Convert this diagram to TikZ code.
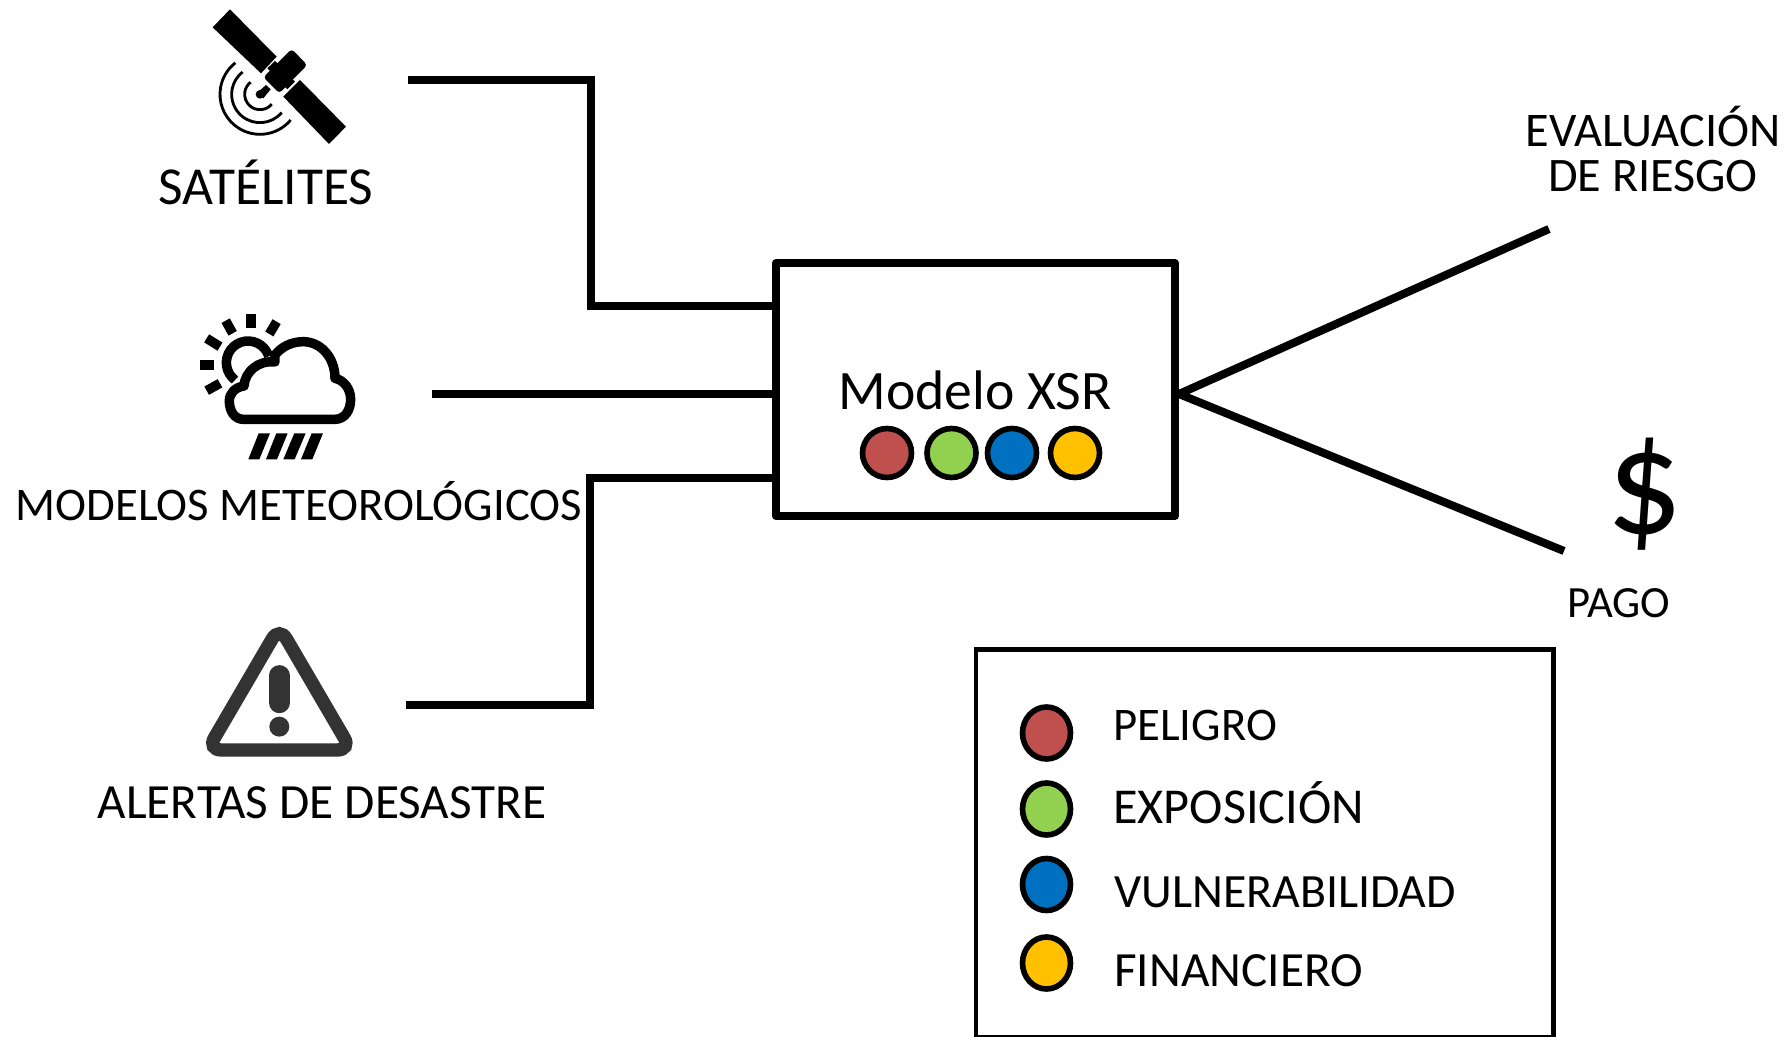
\documentclass[tikz,border=0pt]{standalone}
\usepackage{fontspec}
\setmainfont{Carlito}
\usetikzlibrary{positioning, calc, shapes.geometric}
\definecolor{colpeligro}{HTML}{C0504D}
\definecolor{colexpo}{HTML}{92D050}
\definecolor{colvulner}{HTML}{0070C0}
\definecolor{colfinan}{HTML}{FFC000}
\definecolor{coltri}{HTML}{333333}

\begin{document}
\begin{tikzpicture}[x=0.02cm, y=-0.02cm]
	% Define styles
	\tikzset{
		modelbox/.style={rectangle, draw, line width=4.6pt, line join=round, minimum width=7.98cm, minimum height=5.06cm, inner sep=0pt},
		legendbox/.style={rectangle, draw, line width=2.6pt, minimum width=11.56cm, minimum height=7.76cm, inner sep=0pt},
		line/.style={draw, line width=4.6pt},
		bigdot/.style={circle, draw, line width=3.2pt, minimum size=0.98cm, inner sep=0pt},
		legenddot/.style={ellipse, draw, line width=3.2pt, minimum width=0.96cm, minimum height=1.04cm, inner sep=0pt},
		label/.style={font=\fontsize{28}{34}\selectfont, inner sep=0pt},
		legendtext/.style={inner sep=0pt, anchor=base west},
		iconline/.style={line width=5.4pt}
	}
	\useasboundingbox (0,0) rectangle (1785,1037);

	% Satellite
	\begin{scope}[shift={(180,0)}, scale=0.3333]
		\fill (150,28) -- (98,82) -- (243,220) -- (290,170) -- cycle;
		\fill (360,240) -- (310,290) -- (447,432) -- (498,380) -- cycle;
		\fill[rounded corners=2pt] (335,147) -- (382,195) -- (298,280) -- (250,232) -- cycle;
		\fill (262,205) -- (285,183) -- (300,198) -- (277,220) -- cycle;
		\fill (330,230) -- (345,245) -- (322,268) -- (307,253) -- cycle;
		\fill (258,255) -- (272,268) -- (250,295) -- (232,278) -- cycle;
		\fill (240,283) circle (13);
		\draw[line width=1.6pt] ($(240,283)+(40:46)$) arc (40:232:46);
		\draw[line width=1.6pt] ($(240,283)+(40:85)$) arc (40:232:85);
		\draw[line width=1.6pt] ($(240,283)+(40:120)$) arc (40:232:120);
	\end{scope}

	% Cloud
	\begin{scope}[shift={(180,300)}, scale=0.3333]
		\draw[iconline] (165,240) arc (127:343:65);
		\draw[iconline, line join=round] (190,358) -- (465,358) .. controls (495,358) and (512,330) .. (512,298) .. controls (512,265) and (490,240) .. (465,235) .. controls (465,170) and (420,125) .. (370,125) .. controls (335,125) and (305,140) .. (285,165) -- (285,186) .. controls (235,180) and (195,215) .. (192,258) .. controls (165,262) and (148,280) .. (148,303) .. controls (148,335) and (165,358) .. (190,358) -- cycle;
		\draw[iconline] (213,42) -- (213,85);
		\draw[iconline] (137,62) -- (158,100);
		\draw[iconline] (80,115) -- (120,140);
		\draw[iconline] (60,195) -- (103,195);
		\draw[iconline] (80,272) -- (120,250);
		\draw[iconline] (290,65) -- (268,102);
		\fill (236,400) -- (270,400) -- (238,478) -- (205,478) -- cycle;
		\fill (289,400) -- (323,400) -- (291,478) -- (258,478) -- cycle;
		\fill (343,400) -- (377,400) -- (344,478) -- (310,478) -- cycle;
		\fill (395,400) -- (429,400) -- (397,478) -- (363,478) -- cycle;
	\end{scope}

	% Warning sign
	\begin{scope}[shift={(190,610)}, scale=0.3333]
		\draw[coltri, line width=7.6pt, rounded corners=8pt] (268,50) -- (484,420) -- (52,420) -- cycle;
		\draw[coltri, line width=12pt, line cap=round] (268,197) -- (268,278);
		\fill[coltri] (268,350) circle (30);
	\end{scope}

	% Nodes
	\node[label, font=\fontsize{30.4}{36}\selectfont] (sat) at (266,182.5) {SATÉLITES};
	\node[label, font=\fontsize{26.6}{32}\selectfont] (met) at (299,501.5) {MODELOS METEOROLÓGICOS};
	\node[label] (ale) at (322,803) {ALERTAS DE DESASTRE};
	\node[label, font=\fontsize{27.5}{33}\selectfont] (eva) at (1653,127) {EVALUACIÓN};
	\node[label, font=\fontsize{27.4}{33}\selectfont] (rie) at (1653,176) {DE RIESGO};
	\node[label, font=\fontsize{25.4}{30}\selectfont] (pago) at (1619,603) {PAGO};
	\node[font=\fontsize{86}{98}\selectfont, inner sep=0pt] (dol) at (1645,494) {\$};

	\node[modelbox] (modelo) at (975.5,389.5) {};
	\node[font=\fontsize{31.7}{38}\selectfont, inner sep=0pt] (xsr) at (975,390) {Modelo XSR};
	\node[bigdot, fill=colpeligro] (d1) at (887,453) {};
	\node[bigdot, fill=colexpo] (d2) at (951.5,453) {};
	\node[bigdot, fill=colvulner] (d3) at (1012,453) {};
	\node[bigdot, fill=colfinan] (d4) at (1075,453) {};

	% Legend
	\node[legendbox] (legend) at (1264.8,843.5) {};
	\node[legenddot, fill=colpeligro] (l1) at (1046.5,733) {};
	\node[legenddot, fill=colexpo] (l2) at (1046.5,809) {};
	\node[legenddot, fill=colvulner] (l3) at (1046.5,884.5) {};
	\node[legenddot, fill=colfinan] (l4) at (1046.5,963) {};
	\node[legendtext, font=\fontsize{26.6}{32}\selectfont] (t1) at (1113,740) {PELIGRO};
	\node[legendtext, font=\fontsize{28.6}{34}\selectfont] (t2) at (1113,823) {EXPOSICIÓN};
	\node[legendtext, font=\fontsize{27.2}{32}\selectfont] (t3) at (1114,907) {VULNERABILIDAD};
	\node[legendtext, font=\fontsize{28}{34}\selectfont] (t4) at (1114,986) {FINANCIERO};

	% Arrows
	\coordinate (s1) at (408,80);
	\coordinate (m1) at (432,394);
	\coordinate (a1) at (406,705);
	\coordinate (e1) at (1549,229);
	\coordinate (p1) at (1564,551);
	\coordinate (c1) at (591,306);
	\coordinate (c2) at (590,478);
	\draw[line] (s1) -| (c1) -- (c1 -| modelo.west);
	\draw[line] (m1) -- (m1 -| modelo.west);
	\draw[line] (a1) -| (c2) -- (c2 -| modelo.west);
	\draw[line] (m1 -| modelo.east) -- (e1);
	\draw[line] (m1 -| modelo.east) -- (p1);

\end{tikzpicture}
\end{document}
